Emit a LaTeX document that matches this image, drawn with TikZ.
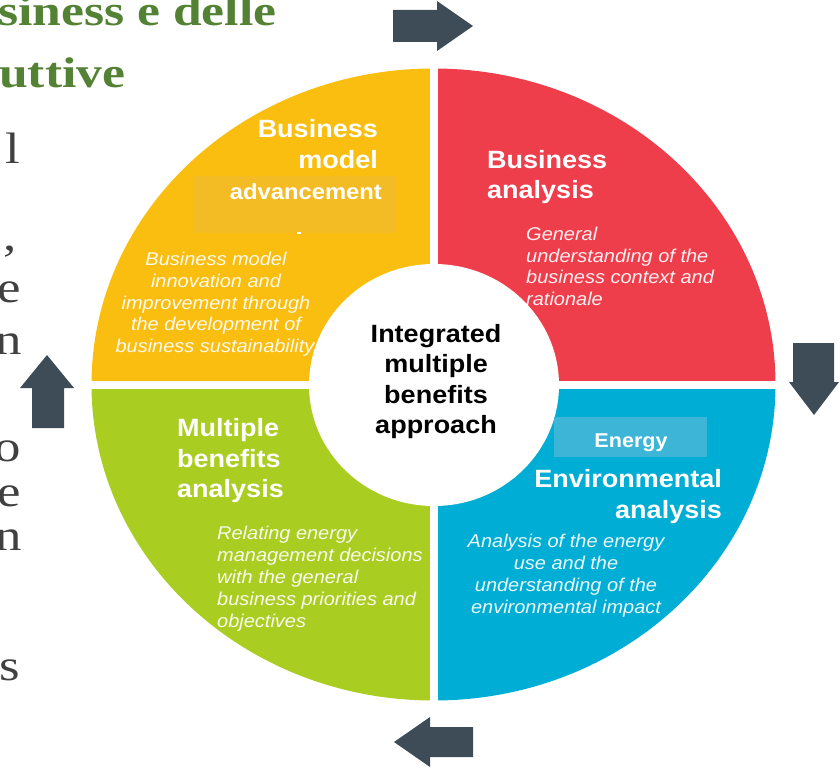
\documentclass[tikz,border=0pt]{standalone}
\usepackage{fontspec}
\setmainfont{Liberation Sans}[FakeStretch=1.08]
\newfontfamily\slidefont{Liberation Serif}[FakeStretch=1.2]
\definecolor{cyel}{HTML}{F9BE10}
\definecolor{cyelbox}{HTML}{F4BC24}
\definecolor{cred}{HTML}{EE3E4C}
\definecolor{cgreen}{HTML}{AACD22}
\definecolor{cblue}{HTML}{00ADD4}
\definecolor{cbluebox}{HTML}{3DB5D7}
\definecolor{carrow}{HTML}{3E4C57}
\definecolor{cslidegreen}{HTML}{548235}
\definecolor{cslidegray}{HTML}{404040}
\tikzset{
  ttl/.style={font=\bfseries\fontsize{25}{30}\selectfont, text=white, inner sep=0pt},
  ttlsmall/.style={font=\bfseries\fontsize{22}{26}\selectfont, text=white, inner sep=0pt},
  ctr/.style={font=\bfseries\fontsize{25}{30}\selectfont, text=black, inner sep=0pt},
  desc/.style={font=\itshape\fontsize{18.5}{22}\selectfont, text=white, text opacity=0.92, inner sep=0pt},
  slidehead/.style={font=\slidefont\bfseries\fontsize{43}{50}\selectfont, text=cslidegreen, inner sep=0pt},
  slidebody/.style={font=\slidefont\fontsize{44}{50}\selectfont, text=cslidegray, inner sep=0pt},
  arrowshape/.style={fill=carrow}
}
\begin{document}
\begin{tikzpicture}[x=1pt,y=-1pt]
\useasboundingbox (0,0) rectangle (840,768);
\clip (0,0) rectangle (840,768);
\coordinate (c) at (433.5,384.5);
% quadrants
\begin{scope}
  \clip (0,0) rectangle (c);
  \fill[cyel] (c) ellipse [x radius=342, y radius=316];
\end{scope}
\begin{scope}
  \clip (c) rectangle (840,0);
  \fill[cred] (c) ellipse [x radius=342, y radius=316];
\end{scope}
\begin{scope}
  \clip (c) rectangle (0,768);
  \fill[cgreen] (c) ellipse [x radius=342, y radius=316];
\end{scope}
\begin{scope}
  \clip (c) rectangle (840,768);
  \fill[cblue] (c) ellipse [x radius=342, y radius=316];
\end{scope}
% white gaps
\fill[white] (429.5,40) rectangle (437.5,730);
\fill[white] (70,380.5) rectangle (800,388.5);
% centre disc
\fill[white] (434,385) ellipse [x radius=125, y radius=121];
% boxes behind labels
\fill[cyelbox] (193,176) rectangle (395,233);
\fill[white] (297,231.5) rectangle (301,233.5);
\fill[cbluebox] (554,417) rectangle (707,457);

% arrows
\fill[arrowshape] (393,10) -- (437,10) -- (437,1) -- (473,26) -- (437,51) -- (437,42) -- (393,42) -- cycle;
\fill[arrowshape] (793,343) -- (834,343) -- (834,382) -- (839,382) -- (814,415) -- (789,382) -- (793,382) -- cycle;
\fill[arrowshape] (473,727) -- (430,727) -- (430,717) -- (394,742) -- (430,767) -- (430,757) -- (473,757) -- cycle;
\fill[arrowshape] (32,428) -- (32,388) -- (20,388) -- (47,355) -- (74,388) -- (64,388) -- (64,428) -- cycle;

% slide text fragments
\node[slidehead, anchor=base west] (sh1) at (-2,26) {siness e delle};
\node[slidehead, anchor=base west] (sh2) at (-1,87) {uttive};
\node[slidebody, anchor=base east] (sb1) at (20,163) {l};
\node[slidebody, anchor=base east] (sb2) at (17,250) {,};
\node[slidebody, anchor=base east] (sb3) at (21,302) {e};
\node[slidebody, anchor=base east] (sb4) at (22,354) {n};
\node[slidebody, anchor=base east] (sb5) at (21,461) {o};
\node[slidebody, anchor=base east] (sb6) at (21,506) {e};
\node[slidebody, anchor=base east] (sb7) at (22,550) {n};
\node[slidebody, anchor=base east] (sb8) at (20,680) {s};

% yellow quadrant
\node[ttl, anchor=base east] (ya) at (378,137) {Business};
\node[ttl, anchor=base east] (yb) at (378,168) {model};
\node[ttlsmall, anchor=base east] (yc) at (382,199) {advancement};
\node[desc, anchor=base] (yd1) at (216,265) {Business model};
\node[desc, anchor=base] (yd2) at (216,287) {innovation and};
\node[desc, anchor=base] (yd3) at (216,309) {improvement through};
\node[desc, anchor=base] (yd4) at (216,330) {the development of};
\node[desc, anchor=base] (yd5) at (215,352) {business sustainability};

% red quadrant
\node[ttl, anchor=base west] (ra) at (487,168) {Business};
\node[ttl, anchor=base west] (rb) at (487,198) {analysis};
\node[desc, anchor=base west] (rd1) at (526,240) {General};
\node[desc, anchor=base west] (rd2) at (526,262) {understanding of the};
\node[desc, anchor=base west] (rd3) at (526,283) {business context and};
\node[desc, anchor=base west] (rd4) at (526,305) {rationale};

% centre
\node[ctr, anchor=base] (ca) at (436,342) {Integrated};
\node[ctr, anchor=base] (cb) at (436,372) {multiple};
\node[ctr, anchor=base] (cc) at (436,403) {benefits};
\node[ctr, anchor=base] (cd) at (436,433) {approach};

% green quadrant
\node[ttl, anchor=base west] (ga) at (177,436) {Multiple};
\node[ttl, anchor=base west] (gb) at (177,467) {benefits};
\node[ttl, anchor=base west] (gc) at (177,497) {analysis};
\node[desc, anchor=base west] (gd1) at (217,539) {Relating energy};
\node[desc, anchor=base west] (gd2) at (217,561) {management decisions};
\node[desc, anchor=base west] (gd3) at (217,583) {with the general};
\node[desc, anchor=base west] (gd4) at (217,605) {business priorities and};
\node[desc, anchor=base west] (gd5) at (217,627) {objectives};

% blue quadrant
\node[font=\bfseries\fontsize{20}{24}\selectfont, text=white, inner sep=0pt, anchor=base] (be) at (631,447) {Energy};
\node[ttl, anchor=base east] (ba) at (722,487) {Environmental};
\node[ttl, anchor=base east] (bb) at (722,518) {analysis};
\node[desc, anchor=base] (bd1) at (566,547) {Analysis of the energy};
\node[desc, anchor=base] (bd2) at (566,569) {use and the};
\node[desc, anchor=base] (bd3) at (566,591) {understanding of the};
\node[desc, anchor=base] (bd4) at (566,613) {environmental impact};
\end{tikzpicture}
\end{document}
